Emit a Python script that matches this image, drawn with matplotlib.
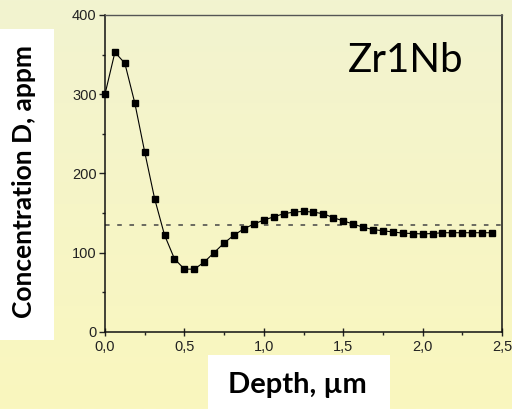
import matplotlib
matplotlib.use("Agg")
import matplotlib.pyplot as plt
import numpy as np
from matplotlib.patches import Rectangle
from matplotlib.ticker import FixedLocator, MultipleLocator

# depth profile of deuterium in Zr1Nb
depth_um = [
    0.0, 0.0625, 0.125, 0.1875, 0.25, 0.3125, 0.375, 0.4375,
    0.5, 0.5625, 0.625, 0.6875, 0.75, 0.8125, 0.875, 0.9375,
    1.0, 1.0625, 1.125, 1.1875, 1.25, 1.3125, 1.375, 1.4375,
    1.5, 1.5625, 1.625, 1.6875, 1.75, 1.8125, 1.875, 1.9375,
    2.0, 2.0625, 2.125, 2.1875, 2.25, 2.3125, 2.375, 2.4375,
]
conc_appm = [
    300, 353, 339, 289, 227, 168, 122, 92,
    79, 79, 88, 100, 112, 122, 130, 136,
    141, 145, 149, 151, 152, 151, 149, 144,
    140, 136, 132, 129, 127.5, 126, 124.5, 124,
    123.5, 124, 125, 125, 125, 125, 125, 125,
]
mean_level = 135

x_ticks = [0.0, 0.5, 1.0, 1.5, 2.0, 2.5]
x_tick_labels = ["0,0", "0,5", "1,0", "1,5", "2,0", "2,5"]
y_ticks = [0, 100, 200, 300, 400]

W, H = 512, 409
fig = plt.figure(figsize=(W / 100, H / 100), dpi=100)

# pale yellow backdrop with a soft vertical gradient
bg = fig.add_axes([0, 0, 1, 1], zorder=-5)
top = np.array([242, 243, 208]) / 255
bottom = np.array([250, 247, 190]) / 255
t = np.linspace(0, 1, 256)[:, None]
grad = top + (bottom - top) * t
bg.imshow(grad[:, None, :], aspect="auto", extent=[0, 1, 0, 1])
bg.set_axis_off()

# white boxes behind the axis titles
fig.patches.append(Rectangle((0, (H - 340) / H), 54 / W, 311 / H,
                             transform=fig.transFigure, facecolor="white",
                             edgecolor="none", zorder=-1))
fig.patches.append(Rectangle((208 / W, 0), 182 / W, 54 / H,
                             transform=fig.transFigure, facecolor="white",
                             edgecolor="none", zorder=-1))

ax = fig.add_axes([105 / W, (H - 331.7) / H, 397 / W, 316.7 / H])
ax.set_facecolor("none")

ax.axhline(mean_level, color="#444444", lw=1.1, ls=(0, (3, 5)), zorder=2)
ax.plot(depth_um, conc_appm, color="black", lw=0.8, marker="s",
        markersize=4.8, markerfacecolor="black", markeredgecolor="black",
        zorder=3, clip_on=False)

ax.set_xlim(0, 2.5)
ax.set_ylim(0, 400)
ax.xaxis.set_major_locator(FixedLocator(x_ticks))
ax.set_xticklabels(x_tick_labels)
ax.xaxis.set_minor_locator(MultipleLocator(0.25))
ax.yaxis.set_major_locator(FixedLocator(y_ticks))
ax.yaxis.set_minor_locator(MultipleLocator(50))

for lab in ax.get_xticklabels() + ax.get_yticklabels():
    lab.set_fontfamily("Liberation Sans")
    lab.set_fontsize(10.5)
    lab.set_color("#222222")

ax.tick_params(axis="x", which="major", direction="inout", length=6,
               width=1, color="#222222", pad=3)
ax.tick_params(axis="x", which="minor", direction="out", length=2,
               width=1, color="#222222")
ax.tick_params(axis="y", which="major", direction="out", length=4,
               width=1, color="#222222", pad=2)
ax.tick_params(axis="y", which="minor", direction="out", length=2,
               width=1, color="#222222")

for side in ["left", "bottom", "right"]:
    ax.spines[side].set_color("#111111")
    ax.spines[side].set_linewidth(1.1)
ax.spines["top"].set_color("#555555")
ax.spines["top"].set_linewidth(1.0)

ax.text(406 / W, (H - 60) / H, "Zr1Nb", transform=fig.transFigure,
        ha="center", va="center", fontsize=29, family="Lato", color="black")

fig.text(24 / W, (H - 181) / H, "Concentration D, appm", rotation=90,
         ha="center", va="center", fontsize=19, fontweight="bold",
         family="Lato", color="black")
fig.text(297 / W, (H - 385) / H, "Depth, µm", ha="center", va="center",
         fontsize=21, fontweight="bold", family="Lato", color="black")

fig.savefig("out.png", dpi=100)
